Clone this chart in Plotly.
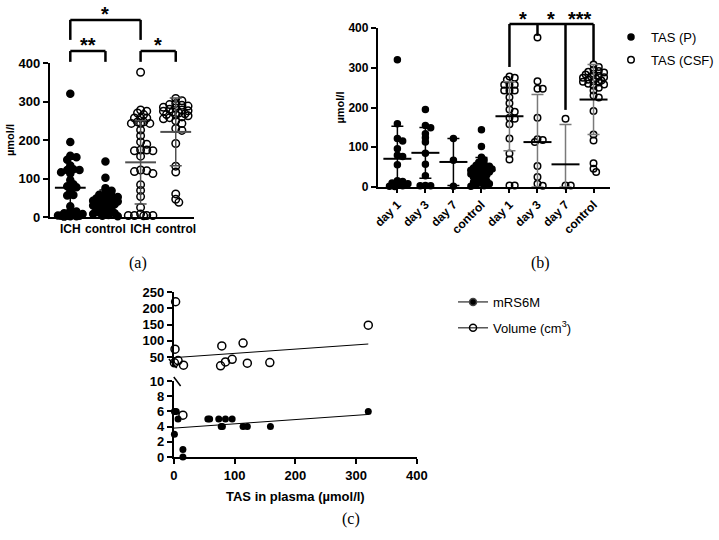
import plotly.graph_objects as go

W, H = 719, 540
FONT = "Liberation Sans"
SERIF = "Liberation Serif"

# ---- data ----
cats_a = ["ICH", "control", "ICH", "control"]
cats_b = ["day 1", "day 3", "day 7", "control", "day 1", "day 3", "day 7", "control"]

p_day1 = [320, 159, 122, 116, 96, 80, 77, 56, 16, 14, 10, 8, 5, 3, 2, 1]
p_day3 = [195, 155, 149, 134, 124, 113, 85, 57, 28, 4, 3, 3]
p_day7 = [122, 67, 2]
p_control = [144, 102, 75, 68, 62, 58, 55, 52, 50, 48, 46, 45, 44, 42, 40, 38,
             36, 35, 33, 30, 28, 25, 22, 18, 15, 12, 10, 8, 5, 3, 2]

csf_day1 = [278, 275, 270, 257, 257, 257, 243, 243, 243, 226, 211, 195, 189,
            174, 172, 158, 122, 84, 69, 4, 4]
csf_day3 = [376, 266, 247, 247, 174, 120, 118, 113, 53, 25, 8, 3]
csf_day7 = [172, 4, 4]
csf_control = [308, 302, 295, 292, 290, 288, 285, 283, 280, 278, 276, 275, 273,
               270, 268, 266, 265, 263, 260, 258, 255, 250, 243, 230, 225, 191,
               132, 117, 60, 46, 38]

a_mean = [76, 43, 142, 221]
a_sd = [74, 27, 108, 88]
b_mean = [71, 86, 63, 42, 178, 113, 57, 220]
b_sd = [82, 64, 59, 32, 87, 120, 100, 88]

mrs_tas = [1, 4, 7, 1, 15, 15, 56, 59, 74, 78, 80, 85, 96, 114, 121, 159, 320]
mrs_score = [6, 6, 5, 3, 1, 0, 5, 5, 5, 4, 4, 5, 5, 4, 4, 4, 6]
vol_tas = [3, 2, 1, 7, 16, 79, 77, 85, 96, 114, 121, 158, 320, 15]
vol_cm3 = [220, 74, 32, 39, 25, 84, 23, 35, 43, 93, 31, 33, 148, 5.5]
trend_tas = [0, 320]
trend_mrs = [3.8, 5.6]
trend_vol = [48, 90]

# ---- geometry (pixels in the 719x540 page) ----
A_LEFT, A_RIGHT, A_CAT0, A_STEP = 51, 199, 72, 36
A_Y0, A_YTOP = 217, 63
B_LEFT, B_RIGHT, B_CAT0, B_STEP = 387, 625, 407, 28.7
B_Y0, B_YTOP = 187, 28
C_X0, C_X400 = 178, 427
C_LOW0, C_LOW10 = 457, 381
C_TOP250, C_TOP20 = 292, 366.75


def px(p):
    return p / W


def py(p):
    return 1 - p / H


def swarm(values, center, unit_px, cat_px, size, maxw):
    # simple deterministic beeswarm, offsets in pixels then converted to category units
    d = size * 0.62
    step = size * 0.45
    cands = [0.0]
    k = 1
    while k * step <= maxw:
        cands += [k * step, -k * step]
        k += 1
    placed, xs, ys = [], [], []
    for v in sorted(values, reverse=True):
        yp = v * unit_px
        chosen, fallback, fb_d = None, 0.0, -1
        for xp in cands:
            md = min([((xp - a) ** 2 + (yp - b) ** 2) ** 0.5 for a, b in placed] or [1e9])
            if md >= d:
                chosen = xp
                break
            if md > fb_d:
                fb_d, fallback = md, xp
        if chosen is None:
            chosen = fallback
        placed.append((chosen, yp))
        xs.append(center + chosen / cat_px)
        ys.append(v)
    return xs, ys


fig = go.Figure()

# ---- panel (a) ----
a_unit = (A_Y0 - A_YTOP) / 400
groups_a = [(p_day1 + p_day3 + p_day7, False), (p_control, False),
            (csf_day1 + csf_day3 + csf_day7, True), (csf_control, True)]
for i, (vals, hollow) in enumerate(groups_a):
    xs, ys = swarm(vals, i, a_unit, A_STEP, 7, 14)
    fig.add_trace(go.Scatter(
        x=xs, y=ys, mode="markers", xaxis="x", yaxis="y", showlegend=False,
        cliponaxis=False,
        marker=dict(symbol="circle-open" if hollow else "circle", size=7.5 if hollow else 7,
                    color="black", line=dict(color="black", width=1.5)),
    ))
for idx, col in [([0, 1], "black"), ([2, 3], "#505050")]:
    fig.add_trace(go.Scatter(
        x=idx, y=[a_mean[i] for i in idx], mode="markers", xaxis="x", yaxis="y",
        showlegend=False, cliponaxis=False,
        marker=dict(symbol="line-ew", size=22, line=dict(color=col, width=2)),
        error_y=dict(type="data", array=[a_sd[i] for i in idx],
                     arrayminus=[min(a_sd[i], a_mean[i]) for i in idx],
                     color=col, thickness=1.5, width=6),
    ))

# ---- panel (b) ----
b_unit = (B_Y0 - B_YTOP) / 400
for name, groups, hollow, off in [("TAS (P)", [p_day1, p_day3, p_day7, p_control], False, 0),
                                  ("TAS (CSF)", [csf_day1, csf_day3, csf_day7, csf_control], True, 4)]:
    xs_all, ys_all = [], []
    for j, vals in enumerate(groups):
        xs, ys = swarm(vals, off + j, b_unit, B_STEP, 6, 11)
        xs_all += xs
        ys_all += ys
    fig.add_trace(go.Scatter(
        x=xs_all, y=ys_all, mode="markers", xaxis="x2", yaxis="y2", name=name,
        legend="legend", legendgroup=name, cliponaxis=False,
        marker=dict(symbol="circle-open" if hollow else "circle", size=6.5 if hollow else 6,
                    color="black", line=dict(color="black", width=1.5)),
    ))
for idx, col in [([0, 1, 2, 3], "black"), ([4, 5, 6, 7], "#7a7a7a")]:
    fig.add_trace(go.Scatter(
        x=idx, y=[b_mean[i] for i in idx], mode="markers", xaxis="x2", yaxis="y2",
        showlegend=False, cliponaxis=False,
        marker=dict(symbol="line-ew", size=20, line=dict(color="black", width=2)),
        error_y=dict(type="data", array=[b_sd[i] for i in idx],
                     arrayminus=[min(b_sd[i], b_mean[i]) for i in idx],
                     color=col, thickness=1.5, width=6),
    ))

# ---- panel (c) ----
fig.add_trace(go.Scatter(
    x=mrs_tas, y=mrs_score, mode="markers", xaxis="x3", yaxis="y3", showlegend=False,
    cliponaxis=False, marker=dict(symbol="circle", size=7, color="black")))
low = [(t, v) for t, v in zip(vol_tas, vol_cm3) if v < 20]
high = [(t, v) for t, v in zip(vol_tas, vol_cm3) if v >= 20]
fig.add_trace(go.Scatter(
    x=[t for t, _ in high], y=[v for _, v in high], mode="markers", xaxis="x3", yaxis="y4",
    showlegend=False, cliponaxis=False,
    marker=dict(symbol="circle-open", size=8, color="black", line=dict(width=1.5))))
fig.add_trace(go.Scatter(
    x=[t for t, _ in low], y=[v for _, v in low], mode="markers", xaxis="x3", yaxis="y3",
    showlegend=False, cliponaxis=False,
    marker=dict(symbol="circle-open", size=8, color="black", line=dict(width=1.5))))
fig.add_trace(go.Scatter(x=trend_tas, y=trend_mrs, mode="lines", xaxis="x3", yaxis="y3",
                         showlegend=False, line=dict(color="black", width=1)))
fig.add_trace(go.Scatter(x=trend_tas, y=trend_vol, mode="lines", xaxis="x3", yaxis="y4",
                         showlegend=False, line=dict(color="black", width=1)))
for name, sym in [("mRS6M", "circle"), ("Volume (cm<sup>3</sup>)", "circle-open")]:
    fig.add_trace(go.Scatter(
        x=[None], y=[None], mode="lines+markers", xaxis="x3", yaxis="y3", name=name,
        legend="legend2", legendgroup=name, line=dict(color="black", width=1),
        marker=dict(symbol=sym, size=7, color="black", line=dict(width=1.5))))

# ---- axes ----
tickfont = dict(family=FONT, size=13, color="black", weight="bold")
base = dict(showgrid=False, zeroline=False, showline=True, linecolor="black", linewidth=2,
            ticks="outside", ticklen=5, tickwidth=2, tickcolor="black", tickfont=tickfont)
ytitle = dict(text="µmol/l", font=dict(family=FONT, size=11, color="black", weight="bold"))

fig.update_layout(
    xaxis=dict(base, domain=[px(A_LEFT), px(A_RIGHT)], anchor="y",
               range=[(A_LEFT - A_CAT0) / A_STEP, (A_RIGHT - A_CAT0) / A_STEP],
               tickvals=list(range(4)), ticktext=cats_a, ticklen=0,
               tickfont=dict(tickfont, size=12)),
    yaxis=dict(base, domain=[py(A_Y0), py(A_YTOP)], anchor="x", range=[0, 400],
               tickvals=[0, 100, 200, 300, 400], title=ytitle),
    xaxis2=dict(base, domain=[px(B_LEFT), px(B_RIGHT)], anchor="y2",
                range=[(B_LEFT - B_CAT0) / B_STEP, (B_RIGHT - B_CAT0) / B_STEP],
                tickvals=list(range(8)), ticktext=cats_b, tickangle=-45, ticklen=4,
                tickfont=dict(tickfont, size=12)),
    yaxis2=dict(base, domain=[py(B_Y0), py(B_YTOP)], anchor="x2", range=[0, 400],
                tickvals=[0, 100, 200, 300, 400], title=ytitle,
                tickfont=dict(tickfont, size=12)),
    xaxis3=dict(base, domain=[px(C_X0), px(C_X400)], anchor="y3", range=[0, 400],
                tickvals=[0, 100, 200, 300, 400],
                title=dict(text="TAS in plasma (µmol/l)", standoff=10,
                           font=dict(family=FONT, size=13, color="black", weight="bold"))),
    yaxis3=dict(base, domain=[py(C_LOW0), py(C_LOW10)], anchor="x3", range=[0, 10],
                tickvals=[0, 2, 4, 6, 8, 10]),
    yaxis4=dict(base, domain=[py(C_TOP20), py(C_TOP250)], anchor="x3", range=[20, 250],
                tickvals=[50, 100, 150, 200, 250]),
)

# ---- significance brackets ----
shapes, annos = [], []


def seg(x0, y0, x1, y1, width=2.5):
    shapes.append(dict(type="line", xref="paper", yref="paper", x0=px(x0), y0=py(y0),
                       x1=px(x1), y1=py(y1), line=dict(color="black", width=width)))


def star(x, y, text):
    annos.append(dict(x=px(x), y=py(y + 5), xref="paper", yref="paper", text=text,
                      showarrow=False, xanchor="center", yanchor="middle",
                      font=dict(family=FONT, size=20, color="black", weight="bold")))


def ax_a(c):
    return A_CAT0 + c * A_STEP


def ay_a(v):
    return A_Y0 - v * a_unit


for (c0, c1), top, drop, label in [((0, 2), 512, 460, "*"), ((0, 1), 431, 403, "**"),
                                   ((2, 3), 431, 403, "*")]:
    seg(ax_a(c0), ay_a(top), ax_a(c1), ay_a(top))
    seg(ax_a(c0), ay_a(top), ax_a(c0), ay_a(drop))
    seg(ax_a(c1), ay_a(top), ax_a(c1), ay_a(drop))
    star((ax_a(c0) + ax_a(c1)) / 2, ay_a(top) - 11, label)


def ax_b(c):
    return B_CAT0 + c * B_STEP


def ay_b(v):
    return B_Y0 - v * b_unit


b_legs = [(4, 302), (5, 380), (6, 194), (7, 314)]
b_labels = ["*", "*", "***"]
seg(ax_b(4), ay_b(410), ax_b(7), ay_b(410))
for c, drop in b_legs:
    seg(ax_b(c), ay_b(410), ax_b(c), ay_b(drop))
for k, label in enumerate(b_labels):
    star((ax_b(b_legs[k][0]) + ax_b(b_legs[k + 1][0])) / 2, ay_b(410) - 10, label)

# axis break marks in panel (c)
seg(173, 359, 181, 368, width=1.5)
seg(178, 377, 185, 386, width=1.5)

for text, x, y in [("(a)", 130, 263), ("(b)", 565, 263), ("(c)", 360, 530)]:
    annos.append(dict(x=px(x), y=py(y), xref="paper", yref="paper", text=text,
                      showarrow=False, font=dict(family=SERIF, size=16, color="black")))

fig.update_layout(
    shapes=shapes, annotations=annos,
    width=W, height=H, template="none",
    margin=dict(l=0, r=0, t=0, b=0),
    paper_bgcolor="white", plot_bgcolor="white",
    font=dict(family=FONT, color="black"),
    legend=dict(x=px(626), y=py(22), xanchor="left", yanchor="top",
                font=dict(family=FONT, size=13, color="black"),
                bgcolor="rgba(0,0,0,0)", tracegroupgap=3),
    legend2=dict(x=px(464), y=py(287), xanchor="left", yanchor="top",
                 font=dict(family=FONT, size=13, color="black"),
                 bgcolor="rgba(0,0,0,0)", tracegroupgap=6),
)

# the page body has a default 8px margin; drop it so the figure sits at (0, 0)
fig.write_html("out.html", config={"displayModeBar": False},
               post_script="document.body.style.margin='0px';")
